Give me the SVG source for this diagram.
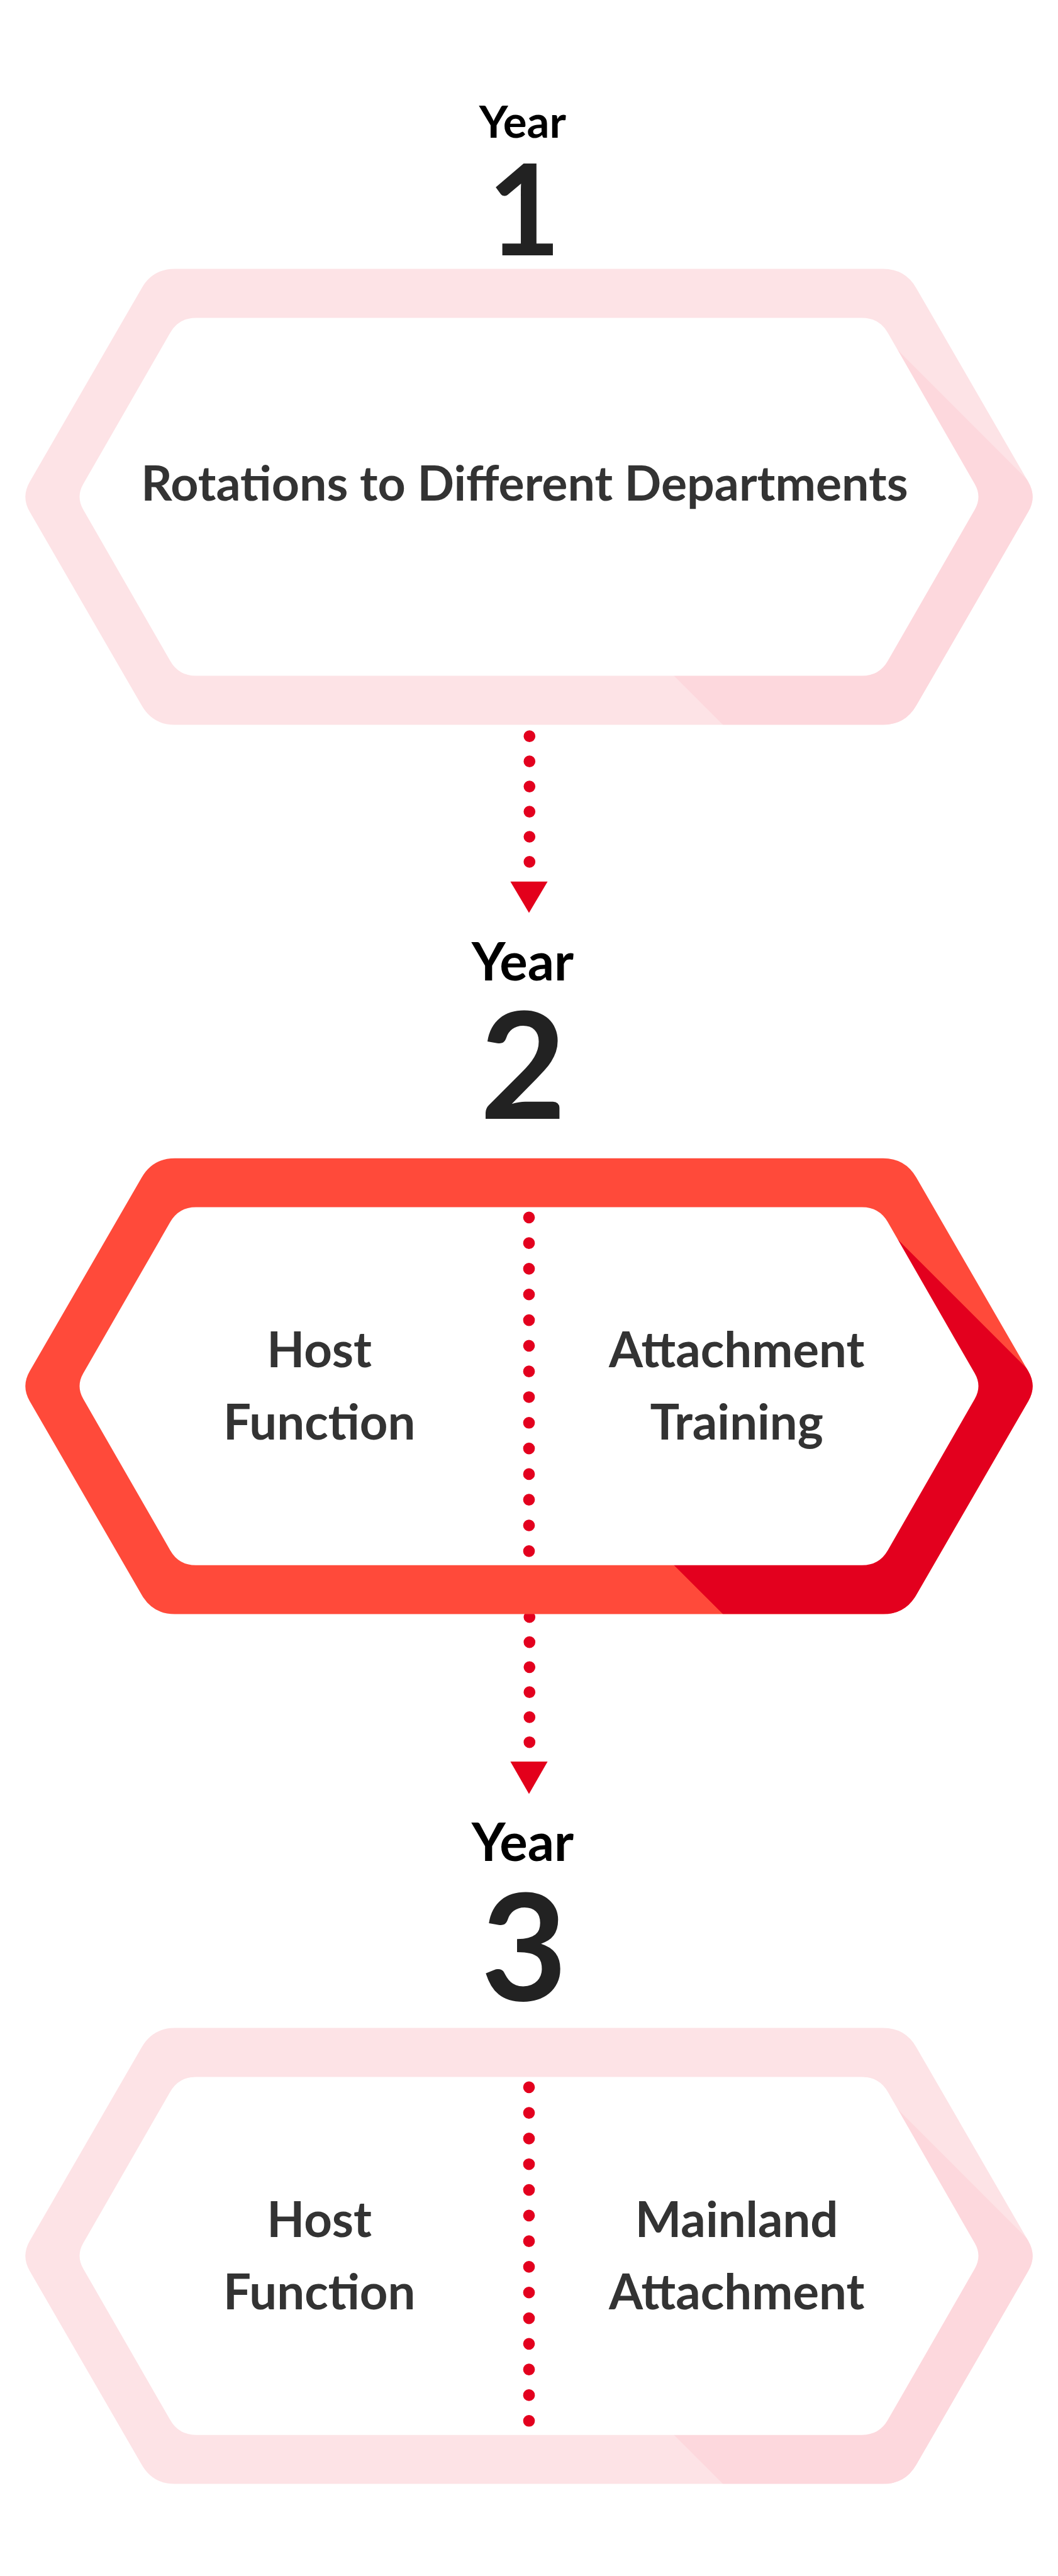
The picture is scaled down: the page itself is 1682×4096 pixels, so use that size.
<svg xmlns="http://www.w3.org/2000/svg" xmlns:xlink="http://www.w3.org/1999/xlink" width="1682" height="4096" viewBox="0 0 1682 4096">
<style>
.yr{font-family:Lato,"Open Sans","Liberation Sans",sans-serif;font-weight:700;fill:#000;text-anchor:middle}
.dg{font-family:Lato,"Open Sans","Liberation Sans",sans-serif;font-weight:700;fill:#222;text-anchor:middle}
.lb{font-family:Lato,"Open Sans","Liberation Sans",sans-serif;font-weight:700;fill:#333;text-anchor:middle;font-size:100px}
.dots{stroke:#E3001E;stroke-width:24;stroke-linecap:round;fill:none}
.arrow{fill:#E3001B}
.inner{fill:#fff}
.pale{fill:#FDE3E6}
.paleFold{fill:#FDD8DD}
.red{fill:#FF4A3A}
.redFold{fill:#E3001E}
</style>
<defs>
<path id="hexOuter" d="M357,0 L1803,0 Q1848,0 1870.5,39 L2099.5,435.2 Q2117,465.5 2099.5,495.8 L1870.5,892 Q1848,931 1803,931 L357,931 Q312,931 289.5,892 L60.5,495.8 Q43,465.5 60.5,435.2 L289.5,39 Q312,0 357,0 Z"/>
<path id="hexInner" d="M400,100 L1760,100 Q1795,100 1812.4,130.3 L1990.1,439.5 Q2005,465.5 1990.1,491.5 L1812.4,800.7 Q1795,831 1760,831 L400,831 Q365,831 347.6,800.7 L169.9,491.5 Q155,465.5 169.9,439.5 L347.6,130.3 Q365,100 400,100 Z"/>
<polygon id="fold" points="1800,133 2140,473 2200,465 1900,1000 1545,1000 1340,795 1950,465"/>
<clipPath id="hexClip" clipPathUnits="userSpaceOnUse"><use xlink:href="#hexOuter"/></clipPath>
</defs>
<g transform="scale(0.7787)">
<g id="connectors">
<line class="dots" x1="1081" y1="1503.4" x2="1081" y2="1761" stroke-dasharray="0 51.3"/>
<polygon class="arrow" points="1042,1800 1118,1800 1080,1864"/>
<line class="dots" x1="1081" y1="3302" x2="1081" y2="3558" stroke-dasharray="0 51.1"/>
<polygon class="arrow" points="1042,3597 1118,3597 1080,3663"/>
</g>
<g id="node1">
<text class="yr" x="1067" y="281" font-size="91">Year</text>
<text class="dg" x="1070" y="522" font-size="258">1</text>
<g transform="translate(0,549)">
<use xlink:href="#hexOuter" class="pale"/>
<use xlink:href="#fold" class="paleFold" clip-path="url(#hexClip)"/>
<use xlink:href="#hexInner" class="inner"/>
<text class="lb" x="1071" y="473" style="font-size:99px">Rotations to Different Departments</text>
</g>
</g>
<g id="node2">
<text class="yr" x="1067" y="2002" font-size="107">Year</text>
<text class="dg" x="1068" y="2285" font-size="304">2</text>
<g transform="translate(0,2365)">
<use xlink:href="#hexOuter" class="red"/>
<use xlink:href="#fold" class="redFold" clip-path="url(#hexClip)"/>
<use xlink:href="#hexInner" class="inner"/>
<line class="dots" x1="1080" y1="121" x2="1080" y2="803" stroke-dasharray="0 52.4"/>
<text class="lb" x="652" y="427">Host</text>
<text class="lb" x="652" y="575">Function</text>
<text class="lb" x="1504" y="427">Attachment</text>
<text class="lb" x="1504" y="575">Training</text>
</g>
</g>
<g id="node3">
<text class="yr" x="1067" y="3800" font-size="107">Year</text>
<text class="dg" x="1070" y="4085" font-size="304">3</text>
<g transform="translate(0,4141)">
<use xlink:href="#hexOuter" class="pale"/>
<use xlink:href="#fold" class="paleFold" clip-path="url(#hexClip)"/>
<use xlink:href="#hexInner" class="inner"/>
<line class="dots" x1="1080" y1="121" x2="1080" y2="803" stroke-dasharray="0 52.4"/>
<text class="lb" x="652" y="427">Host</text>
<text class="lb" x="652" y="575">Function</text>
<text class="lb" x="1504" y="427">Mainland</text>
<text class="lb" x="1504" y="575">Attachment</text>
</g>
</g>
</g>
</svg>
